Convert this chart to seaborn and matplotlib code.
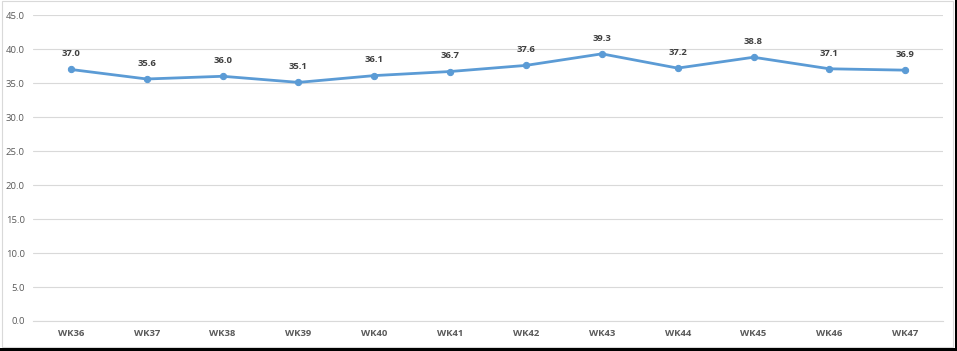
import seaborn as sns
import matplotlib.pyplot as plt
import pandas as pd
from matplotlib.patches import Rectangle

weeks = ["WK36", "WK37", "WK38", "WK39", "WK40", "WK41",
         "WK42", "WK43", "WK44", "WK45", "WK46", "WK47"]
values = [37.0, 35.6, 36.0, 35.1, 36.1, 36.7,
          37.6, 39.3, 37.2, 38.8, 37.1, 36.9]
y_ticks = [0, 5, 10, 15, 20, 25, 30, 35, 40, 45]

sns.set_style("white")
plt.rcParams['font.family'] = ['Open Sans', 'DejaVu Sans']

df = pd.DataFrame({"week": weeks, "value": values})
df["pos"] = range(len(weeks))

fig = plt.figure(figsize=(9.57, 3.51), dpi=100)
ax = fig.add_axes([0.0345, 0.0855, 0.951, 0.8715])

sns.lineplot(data=df, x="pos", y="value", ax=ax, color="#5B9BD5",
             linewidth=2.0, marker="o", markersize=4.5,
             markeredgecolor="#5B9BD5", legend=False)

for x, v in zip(df["pos"], values):
    ax.annotate(f"{v:.1f}", (x, v), xytext=(0, 8), textcoords="offset points",
                ha="center", va="bottom", fontsize=6.8, color="#404040",
                fontweight="bold")

ax.set_xlim(-0.5, len(weeks) - 0.5)
ax.set_ylim(0, 45)
ax.set_yticks(y_ticks)
ax.set_yticklabels([f"{t:.1f}" for t in y_ticks], fontsize=6.8, color="#595959")
ax.set_xticks(df["pos"])
ax.set_xticklabels(weeks, fontsize=6.8, color="#595959", fontweight="bold")
ax.tick_params(axis="both", length=0, pad=6)
ax.grid(axis="y", color="#D9D9D9", linewidth=0.8)
ax.set_axisbelow(True)
for s in ["top", "right", "left"]:
    ax.spines[s].set_visible(False)
ax.spines["bottom"].set_color("#D9D9D9")
ax.spines["bottom"].set_linewidth(0.8)
ax.set_xlabel("")
ax.set_ylabel("")

# outer chart border
fig.patches.append(Rectangle((0.002, 0.012), 0.994, 0.985, transform=fig.transFigure,
                             fill=False, edgecolor="#D9D9D9", linewidth=0.8))
fig.patches.append(Rectangle((0, 0), 1, 0.008, transform=fig.transFigure,
                             facecolor="black", edgecolor="none"))
fig.patches.append(Rectangle((0.9975, 0), 0.0025, 1, transform=fig.transFigure,
                             facecolor="black", edgecolor="none"))

fig.savefig("out.png", dpi=100)
